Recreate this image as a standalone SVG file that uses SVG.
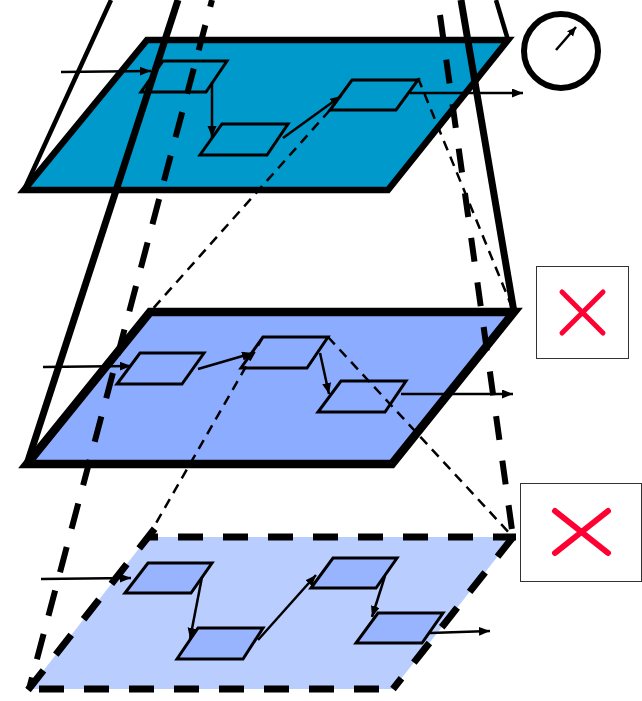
<svg xmlns="http://www.w3.org/2000/svg" width="642" height="701" viewBox="0 0 642 701">
<style>
.plane{stroke:#000;stroke-linejoin:miter;stroke-miterlimit:6}
.n{stroke:#000;stroke-width:3;stroke-linejoin:miter}
.a{stroke:#000;stroke-width:2.5;fill:none;marker-end:url(#ah)}
.fr{stroke:#000;fill:none}
.td{stroke:#000;stroke-width:2.5;fill:none;stroke-dasharray:10 7}
.bd{stroke:#000;stroke-width:7;fill:none;stroke-dasharray:25 20}
.box{fill:#fff;stroke:#333;stroke-width:1}
.x{stroke:#FF0033;stroke-linecap:round;fill:none}
</style>
<defs>
<marker id="ah" markerUnits="userSpaceOnUse" markerWidth="12" markerHeight="10" refX="11" refY="4.5" orient="auto" viewBox="0 0 12 10">
<path d="M0,0 L11,4.5 L0,9 z" fill="#000"/>
</marker>
<marker id="ahs" markerUnits="userSpaceOnUse" markerWidth="10" markerHeight="9" refX="9" refY="4" orient="auto" viewBox="0 0 10 9">
<path d="M0,0 L9,4 L0,8 z" fill="#000"/>
</marker>
</defs>
<rect width="642" height="701" fill="#fff"/>

<g id="plane-top"><polygon class="plane" points="147,40 508,40 388,190 24,190" fill="#0099CC" stroke-width="6.5"/></g>
<g id="plane-middle"><polygon class="plane" points="150,312 514,312 392,464 27,464" fill="#8CACFF" stroke-width="8.5"/></g>
<g id="plane-bottom">
<polygon points="148,537 513,537 393,689 29,689" fill="#B9CDFF"/>
<line class="bd" x1="148" y1="537" x2="516" y2="537" stroke-dashoffset="15"/>
<line class="bd" x1="29" y1="689" x2="393" y2="689" stroke-dashoffset="35"/>
<line class="bd" x1="513" y1="537" x2="393" y2="689"/>
<line class="bd" x1="28" y1="690" x2="156" y2="527"/>
</g>

<g id="node-t1"><polygon class="n" points="163,61 227,61 206,92 141,92" fill="#0099CC"/></g>
<g id="node-t2"><polygon class="n" points="222,124 288,124 267,155 200,155" fill="#0099CC"/></g>
<g id="node-t3"><polygon class="n" points="352,80 418,80 396,110 330,110" fill="#0099CC"/></g>
<g id="node-m1"><polygon class="n" points="140,353 204,353 182,384 117,384" fill="#8CACFF"/></g>
<g id="node-m2"><polygon class="n" points="263,337 328,337 307,368 241,368" fill="#8CACFF"/></g>
<g id="node-m3"><polygon class="n" points="341,381 406,381 385,412 318,412" fill="#8CACFF"/></g>
<g id="node-b1"><polygon class="n" points="148,563 212,563 191,593 125,593" fill="#99B4FF"/></g>
<g id="node-b2"><polygon class="n" points="198,628 263,628 243,659 177,659" fill="#99B4FF"/></g>
<g id="node-b3"><polygon class="n" points="333,558 397,558 376,588 311,588" fill="#99B4FF"/></g>
<g id="node-b4"><polygon class="n" points="378,613 443,613 422,643 356,643" fill="#99B4FF"/></g>

<g id="clock">
<circle cx="561" cy="51" r="37" fill="#fff" stroke="#000" stroke-width="6"/>
<line x1="556" y1="50" x2="576" y2="27" stroke="#000" stroke-width="2.5" marker-end="url(#ahs)"/>
</g>
<g id="cross-1">
<rect class="box" x="536.5" y="266.5" width="92" height="92"/>
<path class="x" stroke-width="5" d="M562,292 L603,333 M603,292 L562,333"/>
</g>
<g id="cross-2">
<rect class="box" x="520.5" y="483.5" width="121" height="98"/>
<path class="x" stroke-width="6" d="M555,511 L608,553 M608,511 L555,553"/>
</g>

<g id="connectors">
<line class="a" x1="61" y1="72" x2="151" y2="71"/>
<line class="a" x1="212" y1="82" x2="212" y2="137"/>
<line class="a" x1="283" y1="138" x2="341" y2="96"/>
<line class="a" x1="410" y1="93" x2="523" y2="93"/>
<line class="a" x1="43" y1="367" x2="131" y2="366"/>
<line class="a" x1="198" y1="369" x2="253" y2="353"/>
<line class="a" x1="320" y1="353" x2="329" y2="394"/>
<line class="a" x1="401" y1="394" x2="513" y2="394"/>
<line class="a" x1="41" y1="579" x2="131" y2="578"/>
<line class="a" x1="202" y1="577" x2="190" y2="639"/>
<line class="a" x1="258" y1="640" x2="316" y2="575"/>
<line class="a" x1="385" y1="576" x2="372" y2="617"/>
<line class="a" x1="430" y1="633" x2="490" y2="631"/>

<line class="td" x1="418" y1="78" x2="514" y2="312"/>
<line class="td" x1="330" y1="110" x2="150" y2="312"/>
<line class="td" x1="328" y1="337" x2="513" y2="537"/>
<line class="td" x1="263" y1="337" x2="148" y2="537"/>

<line class="fr" stroke-width="4.5" x1="111" y1="0" x2="24" y2="190"/>
<line class="fr" stroke-width="4.5" x1="496" y1="0" x2="508" y2="40"/>
<line class="fr" stroke-width="7" x1="178" y1="0" x2="27" y2="464"/>
<line class="fr" stroke-width="7" x1="461" y1="0" x2="514" y2="312"/>
<line class="fr" stroke-width="6" stroke-dasharray="26 19" stroke-dashoffset="19" x1="212" y1="0" x2="29" y2="689"/>
<line class="fr" stroke-width="6" stroke-dasharray="24 21" x1="440" y1="15" x2="513" y2="537"/>
</g>
</svg>
